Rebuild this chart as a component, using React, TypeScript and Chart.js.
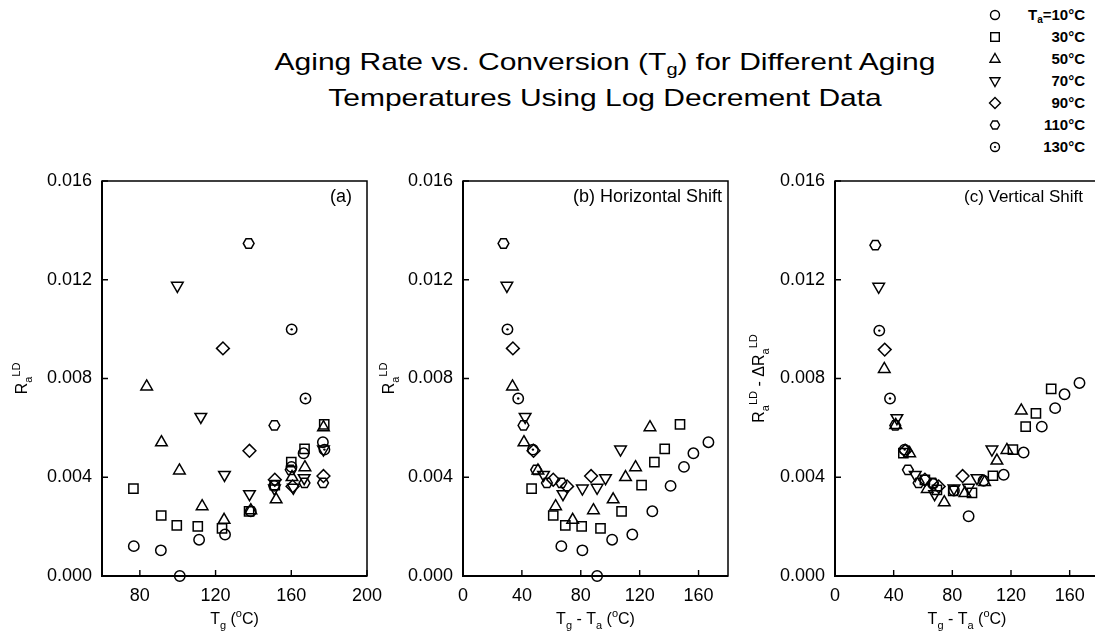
import React, { useEffect, useRef } from 'react';
import { Chart, registerables } from 'chart.js';

Chart.register(...registerables);

const FONT = '"Liberation Sans", Arial, Helvetica, sans-serif';

// ---------- data ----------
const agingTemps = [10, 30, 50, 70, 90, 110, 130];

const tg10 = [76.8, 91.1, 101.1, 111.3, 125.0, 138.6, 151.0, 160.1, 166.5, 176.7];
const r10 = [0.00121, 0.00104, 0.0, 0.00147, 0.00168, 0.00262, 0.00365, 0.00442, 0.00497, 0.00542];
const rc10 = [0.00373, 0.00346, 0.00242, 0.00386, 0.0041, 0.005, 0.00605, 0.0068, 0.00736, 0.00782];

const tg30 = [76.6, 91.3, 99.5, 110.6, 123.4, 137.7, 151.3, 160.0, 167.0, 177.4];
const r30 = [0.00354, 0.00245, 0.00205, 0.00201, 0.00193, 0.00262, 0.00368, 0.00461, 0.00515, 0.00614];
const rc30 = [0.00498, 0.00389, 0.00349, 0.00345, 0.00337, 0.00406, 0.00512, 0.00605, 0.00659, 0.00758];

const tg50 = [83.6, 91.4, 100.9, 112.9, 124.5, 138.6, 152.0, 160.4, 167.2, 177.0];
const r50 = [0.00767, 0.00541, 0.00427, 0.00282, 0.00227, 0.00266, 0.0031, 0.004, 0.0044, 0.00602];
const rc50 = [0.00838, 0.00611, 0.00497, 0.00352, 0.00298, 0.00336, 0.0038, 0.00467, 0.0051, 0.0067];

const tg70 = [99.8, 112.2, 124.7, 137.9, 151.1, 161.1, 166.8, 177.0];
const r70 = [0.01176, 0.00645, 0.0041, 0.00332, 0.00355, 0.00358, 0.00397, 0.00513];
const rc70 = [0.01172, 0.0064, 0.0041, 0.00332, 0.00355, 0.00358, 0.00397, 0.00513];

const tg90 = [123.9, 137.9, 151.3, 160.7, 177.0];
const r90 = [0.00922, 0.00507, 0.0039, 0.00363, 0.00405];
const rc90 = [0.00917, 0.00507, 0.0039, 0.00363, 0.00405];

const tg110 = [137.5, 151.1, 159.7, 167.0, 176.8];
const r110 = [0.01347, 0.0061, 0.0043, 0.00377, 0.00377];
const rc110 = [0.0134, 0.0061, 0.0043, 0.00377, 0.00377];

const tg130 = [160.2, 167.5, 177.5];
const r130 = [0.00999, 0.00719, 0.00512];
const rc130 = [0.00994, 0.00719, 0.00512];

const tgSeries = [tg10, tg30, tg50, tg70, tg90, tg110, tg130];
const rSeries = [r10, r30, r50, r70, r90, r110, r130];
const rcSeries = [rc10, rc30, rc50, rc70, rc90, rc110, rc130];

const legendLabels = ['=10°C', '30°C', '50°C', '70°C', '90°C', '110°C', '130°C'];

const yTicks = [0, 0.004, 0.008, 0.012, 0.016];
const xTicksA = [80, 120, 160, 200];
const xTicksBC = [0, 40, 80, 120, 160];

// ---------- helpers ----------
type Part = { t: string; k?: 'sub' | 'sup' };

function drawRich(ctx: CanvasRenderingContext2D, parts: Part[], cx: number, cy: number, size: number) {
  const fontFor = (k?: string) => `${k ? Math.round(size * 0.7) : size}px ${FONT}`;
  let w = 0;
  for (const p of parts) {
    ctx.font = fontFor(p.k);
    w += ctx.measureText(p.t).width;
  }
  let x = cx - w / 2;
  const base = cy + (size * 0.716) / 2;
  ctx.textAlign = 'left';
  ctx.textBaseline = 'alphabetic';
  for (const p of parts) {
    ctx.font = fontFor(p.k);
    const dy = p.k === 'sub' ? size * 0.3 : p.k === 'sup' ? -size * 0.45 : 0;
    ctx.fillText(p.t, x, base + dy);
    x += ctx.measureText(p.t).width;
  }
}

const MARK_LW = 1.5;

const framePlugin = {
  id: 'frame',
  afterDatasetsDraw(chart: any) {
    const { ctx } = chart;
    ctx.save();
    ctx.strokeStyle = '#000';
    ctx.fillStyle = '#000';
    ctx.lineWidth = MARK_LW;
    chart.data.datasets.forEach((ds: any, di: number) => {
      const meta = chart.getDatasetMeta(di);
      if (ds.extraMark === 'hex') {
        meta.data.forEach((pt: any) => {
          ctx.beginPath();
          for (let i = 0; i < 6; i++) {
            const a = (i * Math.PI) / 3;
            const x = pt.x + 5.4 * Math.cos(a);
            const y = pt.y + 5.4 * Math.sin(a);
            if (i) ctx.lineTo(x, y);
            else ctx.moveTo(x, y);
          }
          ctx.closePath();
          ctx.stroke();
        });
      } else if (ds.extraMark === 'dot') {
        meta.data.forEach((pt: any) => {
          ctx.beginPath();
          ctx.arc(pt.x, pt.y, 1.2, 0, Math.PI * 2);
          ctx.fill();
        });
      }
    });
    ctx.restore();
  },
  afterDraw(chart: any, _args: any, opts: any) {
    const { ctx, chartArea: a, scales } = chart;
    const xs = scales.x;
    const ys = scales.y;
    ctx.save();
    ctx.strokeStyle = '#000';
    ctx.lineWidth = 1.5;
    ctx.strokeRect(a.left, a.top, a.right - a.left, a.bottom - a.top);
    ctx.lineWidth = 2;
    ctx.beginPath();
    ctx.moveTo(a.left, a.top);
    ctx.lineTo(a.left, a.bottom);
    ctx.lineTo(a.right, a.bottom);
    ctx.stroke();
    ctx.lineWidth = 1.4;
    ctx.beginPath();
    xs.ticks.forEach((t: any) => {
      const px = xs.getPixelForValue(t.value);
      ctx.moveTo(px, a.bottom);
      ctx.lineTo(px, a.bottom - 6);
    });
    ys.ticks.forEach((t: any) => {
      const py = ys.getPixelForValue(t.value);
      ctx.moveTo(a.left, py);
      ctx.lineTo(a.left + 6, py);
    });
    ctx.stroke();
    ctx.fillStyle = '#000';
    ctx.font = `${opts.labelSize}px ${FONT}`;
    ctx.textAlign = 'right';
    ctx.textBaseline = 'middle';
    ctx.fillText(opts.label, a.right - opts.labelRight, a.top + 16);
    drawRich(ctx, opts.xTitle, (a.left + a.right) / 2, a.bottom + 42, 16);
    ctx.translate(a.left + opts.yTitleDx, (a.top + a.bottom) / 2);
    ctx.rotate(-Math.PI / 2);
    drawRich(ctx, opts.yTitle, 0, 0, 16);
    ctx.restore();
  },
};

type PanelCfg = {
  left: number;
  width: number;
  yWidth: number;
  padRight: number;
  xMin: number;
  xMax: number;
  xTicks: number[];
  shiftX: boolean;
  ys: number[][];
  label: string;
  labelSize: number;
  labelRight: number;
  yTitleDx: number;
  xTitle: Part[];
  yTitle: Part[];
};

const TOP = 170;
const HEIGHT = 463;

const xTitleA: Part[] = [{ t: 'T' }, { t: 'g', k: 'sub' }, { t: ' (' }, { t: 'o', k: 'sup' }, { t: 'C)' }];
const xTitleBC: Part[] = [
  { t: 'T' },
  { t: 'g', k: 'sub' },
  { t: ' - T' },
  { t: 'a', k: 'sub' },
  { t: ' (' },
  { t: 'o', k: 'sup' },
  { t: 'C)' },
];
const yTitleAB: Part[] = [{ t: 'R' }, { t: 'a', k: 'sub' }, { t: 'LD', k: 'sup' }];
const yTitleC: Part[] = [
  { t: 'R' },
  { t: 'a', k: 'sub' },
  { t: 'LD', k: 'sup' },
  { t: ' - ΔR' },
  { t: 'a', k: 'sub' },
  { t: 'LD', k: 'sup' },
];

const panels: PanelCfg[] = [
  {
    left: 0, width: 385, yWidth: 102, padRight: 18, xMin: 60, xMax: 200, xTicks: xTicksA, shiftX: false,
    ys: rSeries, label: '(a)', labelSize: 18, labelRight: 15, yTitleDx: -80.5, xTitle: xTitleA, yTitle: yTitleAB,
  },
  {
    left: 365, width: 375, yWidth: 98, padRight: 12, xMin: 0, xMax: 180, xTicks: xTicksBC, shiftX: true,
    ys: rSeries, label: '(b) Horizontal Shift', labelSize: 18, labelRight: 6, yTitleDx: -75, xTitle: xTitleBC, yTitle: yTitleAB,
  },
  {
    left: 740, width: 380, yWidth: 95, padRight: 21, xMin: 0, xMax: 180, xTicks: xTicksBC, shiftX: true,
    ys: rcSeries, label: '(c) Vertical Shift', labelSize: 17, labelRight: 16, yTitleDx: -77, xTitle: xTitleBC, yTitle: yTitleC,
  },
];

const markerStyles: any[] = [
  { pointStyle: 'circle', pointRadius: 5.2, rot: 0, extra: null },
  { pointStyle: 'rect', pointRadius: 6.5, rot: 0, extra: null },
  { pointStyle: 'triangle', pointRadius: 6.7, rot: 0, extra: null },
  { pointStyle: 'triangle', pointRadius: 6.7, rot: 180, extra: null },
  { pointStyle: 'rectRot', pointRadius: 6.4, rot: 0, extra: null },
  { pointStyle: 'circle', pointRadius: 5.4, rot: 0, extra: 'hex' },
  { pointStyle: 'circle', pointRadius: 5.2, rot: 0, extra: 'dot' },
];

function Panel({ cfg }: { cfg: PanelCfg }) {
  const ref = useRef<HTMLCanvasElement>(null);
  useEffect(() => {
    const datasets = agingTemps.map((ta, si) => ({
      label: `${ta}°C`,
      data: tgSeries[si].map((tg, i) => ({ x: cfg.shiftX ? tg - ta : tg, y: cfg.ys[si][i] })),
      pointStyle: markerStyles[si].pointStyle,
      pointRadius: markerStyles[si].pointRadius,
      pointRotation: markerStyles[si].rot,
      pointBorderWidth: MARK_LW,
      pointBorderColor: markerStyles[si].extra === 'hex' ? 'rgba(0,0,0,0)' : '#000',
      pointBackgroundColor: 'rgba(0,0,0,0)',
      borderColor: '#000',
      backgroundColor: 'rgba(0,0,0,0)',
      showLine: false,
      clip: false as any,
      extraMark: markerStyles[si].extra,
    }));
    const chart = new Chart(ref.current!, {
      type: 'scatter',
      data: { datasets: datasets as any },
      options: {
        animation: false,
        responsive: false,
        devicePixelRatio: 1,
        layout: { padding: { left: 0, right: cfg.padRight, top: 11, bottom: 0 } },
        plugins: {
          legend: { display: false },
          tooltip: { enabled: false },
          frame: {
            label: cfg.label,
            labelSize: cfg.labelSize,
            labelRight: cfg.labelRight,
            yTitleDx: cfg.yTitleDx,
            xTitle: cfg.xTitle,
            yTitle: cfg.yTitle,
          },
        } as any,
        scales: {
          x: {
            type: 'linear',
            min: cfg.xMin,
            max: cfg.xMax,
            grid: { display: false, drawTicks: false },
            border: { display: false },
            ticks: { font: { family: FONT, size: 18 }, color: '#000', padding: 9, maxRotation: 0 },
            afterBuildTicks: (s: any) => {
              s.ticks = cfg.xTicks.map((v) => ({ value: v }));
            },
            afterFit: (s: any) => {
              s.height = 57;
              s.paddingLeft = 0;
              s.paddingRight = 0;
            },
          },
          y: {
            type: 'linear',
            min: 0,
            max: 0.016,
            grid: { display: false, drawTicks: false },
            border: { display: false },
            ticks: {
              font: { family: FONT, size: 18 },
              color: '#000',
              padding: 10,
              callback: (v: any) => Number(v).toFixed(3),
            },
            afterBuildTicks: (s: any) => {
              s.ticks = yTicks.map((v) => ({ value: v }));
            },
            afterFit: (s: any) => {
              s.width = cfg.yWidth;
              s.paddingTop = 0;
              s.paddingBottom = 0;
            },
          },
        },
      },
      plugins: [framePlugin as any],
    });
    return () => chart.destroy();
  }, [cfg]);
  return (
    <canvas
      ref={ref}
      width={cfg.width}
      height={HEIGHT}
      style={{ position: 'absolute', left: cfg.left, top: TOP, width: cfg.width, height: HEIGHT }}
    />
  );
}

function LegendMarker({ idx }: { idx: number }) {
  const s = 14;
  const c = 7;
  const common = { fill: 'none', stroke: '#000', strokeWidth: 1.4 };
  let el: any = null;
  if (idx === 0) el = <circle cx={c} cy={c} r={4.5} {...common} />;
  if (idx === 1) el = <rect x={c - 4.3} y={c - 4.3} width={8.6} height={8.6} {...common} />;
  if (idx === 2) el = <polygon points={`${c},${c - 5.5} ${c + 5},${c + 3.2} ${c - 5},${c + 3.2}`} {...common} />;
  if (idx === 3) el = <polygon points={`${c},${c + 5.5} ${c + 5},${c - 3.2} ${c - 5},${c - 3.2}`} {...common} />;
  if (idx === 4) el = <polygon points={`${c},${c - 5.5} ${c + 5.5},${c} ${c},${c + 5.5} ${c - 5.5},${c}`} {...common} />;
  if (idx === 5) {
    const pts = [0, 1, 2, 3, 4, 5]
      .map((i) => `${c + 4.6 * Math.cos((i * Math.PI) / 3)},${c + 4.6 * Math.sin((i * Math.PI) / 3)}`)
      .join(' ');
    el = <polygon points={pts} {...common} />;
  }
  if (idx === 6)
    el = (
      <g>
        <circle cx={c} cy={c} r={4.5} {...common} />
        <circle cx={c} cy={c} r={1.1} fill="#000" />
      </g>
    );
  return (
    <svg width={s} height={s} style={{ position: 'absolute', left: 995 - c, top: 15 + idx * 22 - c }}>
      {el}
    </svg>
  );
}

export default function App() {
  const titleStyle: React.CSSProperties = {
    position: 'absolute',
    left: 0,
    width: 1210,
    textAlign: 'center',
    fontFamily: FONT,
    fontSize: 24,
    lineHeight: '24px',
    color: '#000',
    whiteSpace: 'nowrap',
    transform: 'scaleX(1.25)',
    transformOrigin: '50% 50%',
  };
  return (
    <div
      style={{
        position: 'fixed',
        left: 0,
        top: 0,
        width: 1095,
        height: 633,
        overflow: 'hidden',
        background: '#fff',
      }}
    >
      <div style={{ ...titleStyle, top: 50 }}>
        Aging Rate vs. Conversion (T
        <sub style={{ fontSize: 16, lineHeight: 0, verticalAlign: '-5px' }}>g</sub>) for Different Aging
      </div>
      <div style={{ ...titleStyle, top: 86 }}>Temperatures Using Log Decrement Data</div>
      {panels.map((p, i) => (
        <Panel key={i} cfg={p} />
      ))}
      {legendLabels.map((lab, i) => (
        <React.Fragment key={i}>
          <LegendMarker idx={i} />
          <div
            style={{
              position: 'absolute',
              right: 10,
              top: 15 + i * 22 - 9,
              fontFamily: FONT,
              fontWeight: 'bold',
              fontSize: 15,
              lineHeight: '18px',
              color: '#000',
              whiteSpace: 'nowrap',
            }}
          >
            {i === 0 ? (
              <>
                T<sub style={{ fontSize: 10, lineHeight: 0, verticalAlign: '-3px' }}>a</sub>
                {lab}
              </>
            ) : (
              lab
            )}
          </div>
        </React.Fragment>
      ))}
    </div>
  );
}
